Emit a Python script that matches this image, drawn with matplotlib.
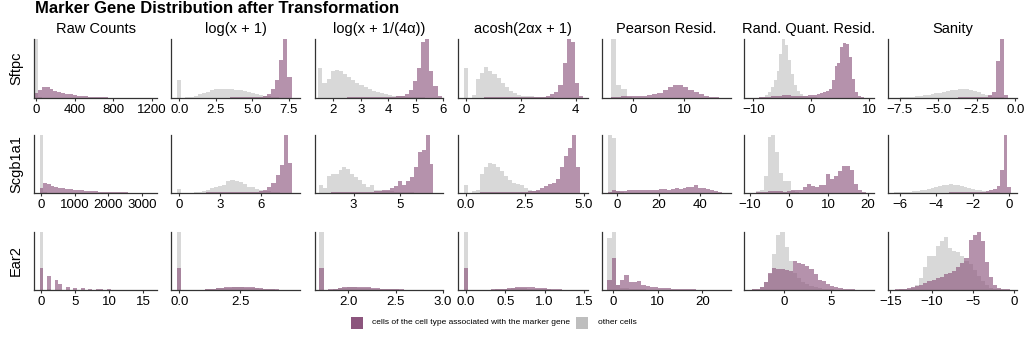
import numpy as np
import matplotlib.pyplot as plt
from matplotlib.patches import Rectangle

plt.rcParams['font.family'] = ['Liberation Sans', 'DejaVu Sans']

genes = ['Sftpc', 'Scgb1a1', 'Ear2']
transforms = ['Raw Counts', 'log(x + 1)', 'log(x + 1/(4α))', 'acosh(2αx + 1)',
              'Pearson Resid.', 'Rand. Quant. Resid.', 'Sanity']
M = '\u2212'

# histogram bins per panel: (first edge, bin width)
sftpc_bins = [(-20, 40), (-0.14, 0.28), (1.45, 0.15), (-0.075, 0.15), (-4.2, 1.0), (-10, 0.5), (-8.0, 0.25)]
scgb1a1_bins = [(-55, 110), (-0.15, 0.3), (1.5, 0.17), (-0.085, 0.17), (-4.6, 1.9), (-8.5, 1.0), (-6.7, 0.2)]
ear2_bins = [(-0.25, 0.55), (-0.08, 0.16), (1.69, 0.05), (-0.025, 0.05), (-1.3, 0.95), (-3.9, 0.44), (-15, 0.5)]

# relative bar heights, "other cells" (grey) and marker cell type (purple)
sftpc_raw_other = [100, 1.0, 0.5, 0.3, 0.2, 0.1, 0.1, 0, 0, 0, 0, 0, 0, 0, 0, 0, 0, 0, 0, 0, 0, 0, 0, 0, 0, 0, 0, 0, 0, 0, 0]
sftpc_raw_marker = [8, 14, 18, 18, 15, 12, 10, 8, 7, 6, 5, 4, 3.5, 3, 2.5, 2, 1.5, 1.2, 1, 0.8, 0.6, 0.5, 0.4, 0.3, 0.2, 0.2, 0.1, 0.1, 0.1, 0, 0]
sftpc_log_other = [30, 0, 1, 2, 4, 6, 8, 11, 13, 15, 16, 16, 16, 15, 14, 14, 12, 10, 8, 6, 5, 4, 3, 2, 1, 0.5, 0, 0]
sftpc_log_marker = [0, 0, 0, 0, 0, 0, 0.3, 0.3, 0.5, 0.5, 0.5, 0.7, 0.7, 1, 1, 1, 1.2, 1.5, 1.5, 2, 2.5, 4, 7, 16, 30, 65, 100, 35]
sftpc_shlog_other = [50, 25, 33, 46, 48, 45, 40, 36, 30, 26, 22, 18, 15, 12, 10, 8, 6, 5, 4, 3.5, 3, 2.5, 2, 1.5, 1, 1, 0.5, 0, 0, 0]
sftpc_shlog_marker = [0, 0, 0, 0, 0.5, 0.5, 0.5, 1, 1, 1, 1, 1.5, 1.5, 2, 2, 2, 2, 2.5, 2.5, 3, 4, 6, 14, 28, 50, 95, 100, 45, 20, 4]
sftpc_acosh_other = [50, 0, 5, 33, 42, 53, 46, 40, 34, 26, 18, 12, 8, 5, 4, 3, 3, 2, 2, 1.5, 1, 1, 0.5, 0.5, 0.3, 0.2, 0, 0, 0]
sftpc_acosh_marker = [0, 0, 0, 0.5, 0.5, 1, 1, 1, 1, 1, 1.2, 1.2, 1.2, 1.5, 1.5, 1.5, 1.5, 2, 2, 2.5, 4, 6, 10, 22, 60, 100, 95, 25, 3]
sftpc_pearson_other = [100, 22, 15, 1, 0.5, 0.3, 0.2, 0.1, 0, 0, 0, 0, 0, 0, 0, 0, 0, 0, 0, 0, 0, 0, 0]
sftpc_pearson_marker = [1, 2, 3, 3, 3, 4, 4, 5, 6, 9, 13, 18, 22, 22, 19, 14, 10, 6, 4, 2, 1, 0.5, 0]
sftpc_rqr_other = [0.3, 0.5, 1, 2, 5, 10, 18, 30, 45, 75, 100, 90, 65, 40, 22, 12, 6, 4, 3, 2,
                   1.5, 1, 0.5, 0.5, 0.3, 0.2, 0.1, 0, 0, 0, 0, 0, 0, 0, 0, 0, 0, 0, 0, 0]
sftpc_rqr_marker = [0, 0.5, 1, 1.5, 2, 2.5, 3, 3, 3.5, 4, 4.5, 5, 4.5, 4, 4, 4, 4, 4, 4, 4.5,
                    5, 5, 6, 8, 10, 12, 15, 30, 55, 60, 87, 94, 92, 70, 32, 10, 3, 1, 0.5, 0]
sftpc_sanity_other = [0.5, 0.5, 1, 1, 1.5, 2, 3, 3.5, 4.5, 5.5, 6.5, 8, 9, 10.5, 12, 13, 14, 15, 15.5, 15,
                      14, 12, 10, 7, 5, 3, 2, 1.5, 1, 0.5, 0, 0]
sftpc_sanity_marker = [0.3, 0.3, 0.3, 0.3, 0.5, 0.5, 0.5, 0.5, 0.5, 0.5, 0.7, 0.7, 0.7, 0.7, 0.8, 0.8, 0.8, 1, 1, 1,
                       1, 1.2, 1.5, 2, 2.5, 5, 10, 62, 100, 5, 0, 0]

scgb1a1_raw_other = [100, 1, 0.5, 0.3, 0.2, 0.1, 0, 0, 0, 0, 0, 0, 0, 0, 0, 0, 0, 0, 0, 0, 0, 0, 0, 0, 0, 0, 0, 0, 0, 0]
scgb1a1_raw_marker = [9, 17, 15, 12, 10, 9, 8, 7.5, 6.5, 5.5, 5, 4.5, 4, 3.5, 3, 3, 2.5, 2, 2, 1.5,
                      1.5, 1.2, 1, 1, 0.8, 0.6, 0.5, 0.4, 0.3, 0.2]
scgb1a1_log_other = [7, 0, 0, 0.5, 1, 1.5, 3, 6, 9, 10, 12, 14, 21, 22, 20, 19, 15, 11, 11, 7,
                     5, 4, 3, 2, 1, 0.5, 0, 0, 0]
scgb1a1_log_marker = [0, 0, 0, 0, 0, 0, 0.5, 1, 1, 1, 1.5, 2, 1.5, 1.5, 2, 2, 2, 2, 2.5, 2.5,
                      4, 6, 10, 17, 31, 49, 100, 52, 0]
scgb1a1_shlog_other = [13, 8, 30, 33, 33, 40, 45, 42, 32, 27, 22, 16, 10, 13, 6, 5, 4, 3, 3, 2,
                       2, 1.5, 1, 1, 0.5, 0.5, 0, 0, 0]
scgb1a1_shlog_marker = [0, 0, 0.5, 1, 1, 1, 1.5, 1, 1.5, 2, 1.5, 2, 1.5, 2, 3, 3.5, 4.5, 5, 8, 12,
                        20, 14, 20, 28, 45, 70, 75, 100, 50]
scgb1a1_acosh_other = [13, 0, 3, 6, 33, 45, 52, 50, 45, 38, 29, 22, 18, 16, 14, 9, 5, 4, 3, 2,
                       2, 1.5, 1, 1, 0.5, 0.5, 0, 0, 0]
scgb1a1_acosh_marker = [0, 0, 0, 0.5, 1, 1, 1.5, 1.5, 1, 1.5, 1.5, 1.5, 2, 2, 2, 2.5, 3, 4, 6, 9,
                        12, 15, 18, 24, 45, 64, 77, 100, 45]
scgb1a1_pearson_other = [100, 95, 3, 1, 0.5, 0.3, 0.2, 0.1, 0, 0, 0, 0, 0, 0, 0, 0, 0, 0, 0, 0,
                         0, 0, 0, 0, 0, 0, 0, 0, 0, 0]
scgb1a1_pearson_marker = [2, 5, 3, 4, 4, 4.5, 5, 5, 6, 5.5, 5, 5.5, 6, 7, 6.5, 6, 7, 8, 7.5, 9,
                          10, 11, 13, 9, 8, 7, 5, 3, 1.5, 0.5]
scgb1a1_rqr_other = [3, 6, 29, 96, 100, 70, 35, 20, 20, 4, 1, 0.5, 0.3, 0.2, 0.1, 0, 0, 0, 0, 0,
                     0, 0, 0, 0, 0, 0, 0, 0]
scgb1a1_rqr_marker = [1, 1, 2, 3, 4, 4, 3, 2, 3, 5, 5, 6, 10, 15, 12, 10, 14, 13, 32, 25,
                      29, 38, 47, 47, 40, 15, 5, 2]
scgb1a1_sanity_other = [0.5, 0.5, 1, 1, 1.5, 2, 2.5, 3, 3.5, 4.5, 5.5, 7, 8.5, 10, 12, 13, 14.5, 15, 14.5, 13.5,
                        12, 10.5, 9, 7.5, 6, 4.5, 3.5, 2.5, 2, 1.5, 1, 0.5, 0, 0]
scgb1a1_sanity_marker = [0.3, 0.3, 0.3, 0.5, 0.5, 0.5, 0.5, 0.5, 0.5, 0.5, 0.5, 0.7, 0.7, 0.7, 0.8, 0.8, 0.8, 1, 1, 1,
                         1, 1, 1.2, 1.5, 1.5, 2, 2, 3, 5, 7, 12, 40, 100, 10]

ear2_raw_other = [100, 0, 1, 0, 0.5, 0.3, 0, 0.2, 0, 0.1, 0, 0, 0, 0, 0, 0, 0, 0, 0, 0,
                  0, 0, 0, 0, 0, 0, 0, 0, 0, 0]
ear2_raw_marker = [38, 0, 24, 0, 17, 10, 0, 6, 0, 3.5, 0, 3.5, 0, 2, 0, 1.5, 1, 0, 1, 0,
                   0.6, 0, 0.5, 0, 0.3, 0.2, 0, 0.1, 0, 0]
ear2_log_other = [100, 0, 0, 0, 0, 0.3, 0.5, 1, 1.5, 2.5, 3, 3.5, 4, 4, 4.5, 4.5, 4.5, 4, 4, 3.5,
                  3, 2.5, 2, 1.5, 1, 0.7, 0.5, 0.3, 0.2, 0]
ear2_log_marker = [38, 0, 0, 0, 0, 0, 0.5, 1, 1.5, 2.5, 3.5, 4, 4.5, 5, 5.5, 6, 6, 5.5, 5, 4.5,
                   3.5, 3, 2.5, 2, 1.5, 1, 0.7, 0.5, 0.3, 0]
ear2_shlog_other = [100, 0, 0.5, 1.5, 3, 4, 4.5, 4.5, 4, 3.5, 3, 2.5, 2, 1.7, 1.4, 1.1, 0.9, 0.7, 0.5, 0.4,
                    0.3, 0.2, 0.1, 0.1, 0, 0, 0]
ear2_shlog_marker = [38, 0, 1, 2.5, 4, 5, 6, 6, 5.5, 5, 4.5, 3.5, 3, 2.5, 2, 1.6, 1.3, 1, 0.8, 0.6,
                     0.4, 0.3, 0.2, 0.1, 0, 0, 0]
ear2_acosh_other = [100, 0, 0, 0, 0, 0.2, 0.4, 0.6, 1, 1.5, 2, 2.5, 3, 3, 3, 3, 2.5, 2.5, 2, 1.5,
                    1.2, 1, 0.8, 0.6, 0.4, 0.3, 0.2, 0.1, 0.1, 0, 0]
ear2_acosh_marker = [38, 0, 0, 0, 0, 0.3, 0.5, 1, 1.5, 2, 2.5, 3, 3.5, 4.5, 5.5, 5.5, 5, 4.5, 4, 3.5,
                     3, 2.5, 2, 1.5, 1, 0.6, 0.3, 0.2, 0.1, 0, 0]
ear2_pearson_other = [90, 100, 9, 4, 3, 2, 1.5, 1, 1, 0.5, 0.5, 0.3, 0.3, 0.2, 0.2, 0.1, 0.1, 0, 0, 0,
                      0, 0, 0, 0, 0, 0, 0, 0]
ear2_pearson_marker = [18, 55, 9, 18, 26, 14, 14, 15, 9, 7, 5, 4.5, 4, 3.5, 3, 2.5, 2, 1.5, 1.5, 1,
                       1, 0.8, 0.6, 0.5, 0.4, 0.3, 0.2, 0.1]
ear2_rqr_other = [0.5, 1, 2, 5, 14, 28, 62, 95, 100, 75, 50, 30, 20, 14, 10, 7, 5, 3, 2, 1.5,
                  1, 0.5, 0.3, 0.2, 0.1, 0, 0, 0, 0, 0]
ear2_rqr_marker = [0.5, 1, 2, 5, 14, 30, 38, 37, 36, 34, 32, 50, 47, 44, 42, 36, 28, 17, 15, 11,
                   7, 5, 3, 2, 1.5, 1, 0.5, 0.5, 0.3, 0]
ear2_sanity_other = [0.5, 0.5, 1, 1.5, 2.5, 4, 8, 20, 40, 58, 58, 76, 84, 92, 72, 68, 65, 58, 50, 45,
                     35, 25, 15, 8, 4, 2, 1, 0.5, 0.2, 0]
ear2_sanity_marker = [0.5, 1, 1.5, 2, 3, 5, 7, 9, 12, 15, 17, 20, 23, 27, 30, 33, 40, 47, 55, 87,
                      95, 100, 84, 49, 23, 9, 3, 1.5, 1, 0.5]

# x ticks per panel
sftpc_ticks = [[0, 400, 800, 1200], [0, 2.5, 5, 7.5], [2, 3, 4, 5, 6], [0, 2, 4], [0, 10], [-10, 0, 10], [-7.5, -5, -2.5, 0]]
sftpc_ticklabels = [['0', '400', '800', '1200'], ['0.0', '2.5', '5.0', '7.5'], ['2', '3', '4', '5', '6'],
                    ['0', '2', '4'], ['0', '10'], [M + '10', '0', '10'], [M + '7.5', M + '5.0', M + '2.5', '0.0']]
scgb1a1_ticks = [[0, 1000, 2000, 3000], [0, 3, 6], [3, 5], [0, 2.5, 5], [0, 20, 40], [-10, 0, 10, 20], [-6, -4, -2, 0]]
scgb1a1_ticklabels = [['0', '1000', '2000', '3000'], ['0', '3', '6'], ['3', '5'], ['0.0', '2.5', '5.0'],
                      ['0', '20', '40'], [M + '10', '0', '10', '20'], [M + '6', M + '4', M + '2', '0']]
ear2_ticks = [[0, 5, 10, 15], [0, 2.5], [2, 2.5, 3], [0, 0.5, 1, 1.5], [0, 10, 20], [0, 5], [-15, -10, -5, 0]]
ear2_ticklabels = [['0', '5', '10', '15'], ['0.0', '2.5'], ['2.0', '2.5', '3.0'], ['0.0', '0.5', '1.0', '1.5'],
                   ['0', '10', '20'], ['0', '5'], [M + '15', M + '10', M + '5', '0']]

xlims = [
    [(-21, 1252), (-0.57, 8.28), (1.33, 6.0), (-0.28, 4.45), (-5.95, 19.05), (-11.6, 10.8), (-8.26, 0.1)],
    [(-220, 3457), (-0.6, 8.84), (1.34, 6.84), (-0.33, 5.18), (-7.4, 54.9), (-11.5, 21.6), (-6.64, 0.42)],
    [(-1.07, 17), (-0.34, 4.96), (1.65, 3.0), (-0.1, 1.55), (-2.5, 26.4), (-4.26, 9.57), (-15.3, 0.4)],
]

other = [
    [sftpc_raw_other, sftpc_log_other, sftpc_shlog_other, sftpc_acosh_other, sftpc_pearson_other, sftpc_rqr_other, sftpc_sanity_other],
    [scgb1a1_raw_other, scgb1a1_log_other, scgb1a1_shlog_other, scgb1a1_acosh_other, scgb1a1_pearson_other, scgb1a1_rqr_other, scgb1a1_sanity_other],
    [ear2_raw_other, ear2_log_other, ear2_shlog_other, ear2_acosh_other, ear2_pearson_other, ear2_rqr_other, ear2_sanity_other],
]
marker = [
    [sftpc_raw_marker, sftpc_log_marker, sftpc_shlog_marker, sftpc_acosh_marker, sftpc_pearson_marker, sftpc_rqr_marker, sftpc_sanity_marker],
    [scgb1a1_raw_marker, scgb1a1_log_marker, scgb1a1_shlog_marker, scgb1a1_acosh_marker, scgb1a1_pearson_marker, scgb1a1_rqr_marker, scgb1a1_sanity_marker],
    [ear2_raw_marker, ear2_log_marker, ear2_shlog_marker, ear2_acosh_marker, ear2_pearson_marker, ear2_rqr_marker, ear2_sanity_marker],
]
bins = [sftpc_bins, scgb1a1_bins, ear2_bins]
ticks = [sftpc_ticks, scgb1a1_ticks, ear2_ticks]
ticklabels = [sftpc_ticklabels, scgb1a1_ticklabels, ear2_ticklabels]

PURPLE = '#8c557d'
GRAY = '#bebebe'

W, H = 1024, 338
col_left = [34, 171, 315, 458, 602, 744, 888]
col_right = [157, 300, 443, 588, 731, 874, 1017]
row_top = [39, 135, 232]
row_bottom = [98, 193, 290]

fig = plt.figure(figsize=(W / 100, H / 100), dpi=100)

for r, gene in enumerate(genes):
    for c, name in enumerate(transforms):
        ax = fig.add_axes([col_left[c] / W, 1 - row_bottom[r] / H,
                           (col_right[c] - col_left[c]) / W, (row_bottom[r] - row_top[r]) / H])
        g = np.array(other[r][c], dtype=float)
        p = np.array(marker[r][c], dtype=float)
        lo, w = bins[r][c]
        ax.stairs(g, lo + w * np.arange(len(g) + 1), fill=True, color=GRAY, alpha=0.6, lw=0)
        ax.stairs(p, lo + w * np.arange(len(p) + 1), fill=True, color=PURPLE, alpha=0.64, lw=0)
        ax.set_ylim(0, max(g.max(), p.max()))
        ax.set_xlim(*xlims[r][c])
        ax.set_xticks(ticks[r][c])
        ax.set_xticklabels(ticklabels[r][c])
        ax.set_yticks([])
        ax.tick_params(axis='x', length=2, width=0.8, pad=2, labelsize=9.5, color='#333333')
        for s in ['top', 'right']:
            ax.spines[s].set_visible(False)
        for s in ['left', 'bottom']:
            ax.spines[s].set_linewidth(0.9)
            ax.spines[s].set_color('#333333')
        if r == 0:
            ax.set_title(name, fontsize=10.5, pad=4)
        if c == 0:
            ax.set_ylabel(gene, fontsize=10.5, labelpad=8)

fig.text(35 / W, 1 - 1 / H, 'Marker Gene Distribution after Transformation',
         fontsize=12, fontweight='bold', va='top', ha='left')

# legend
fig.add_artist(Rectangle((351 / W, 1 - 329 / H), 12 / W, 12 / H, transform=fig.transFigure,
                         facecolor=PURPLE, edgecolor='none'))
fig.text(372 / W, 1 - 323 / H, 'cells of the cell type associated with the marker gene',
         fontsize=6, va='center', ha='left')
fig.add_artist(Rectangle((576 / W, 1 - 329 / H), 12 / W, 12 / H, transform=fig.transFigure,
                         facecolor=GRAY, edgecolor='none'))
fig.text(598 / W, 1 - 323 / H, 'other cells', fontsize=6, va='center', ha='left')

fig.savefig('out.png', dpi=100)
